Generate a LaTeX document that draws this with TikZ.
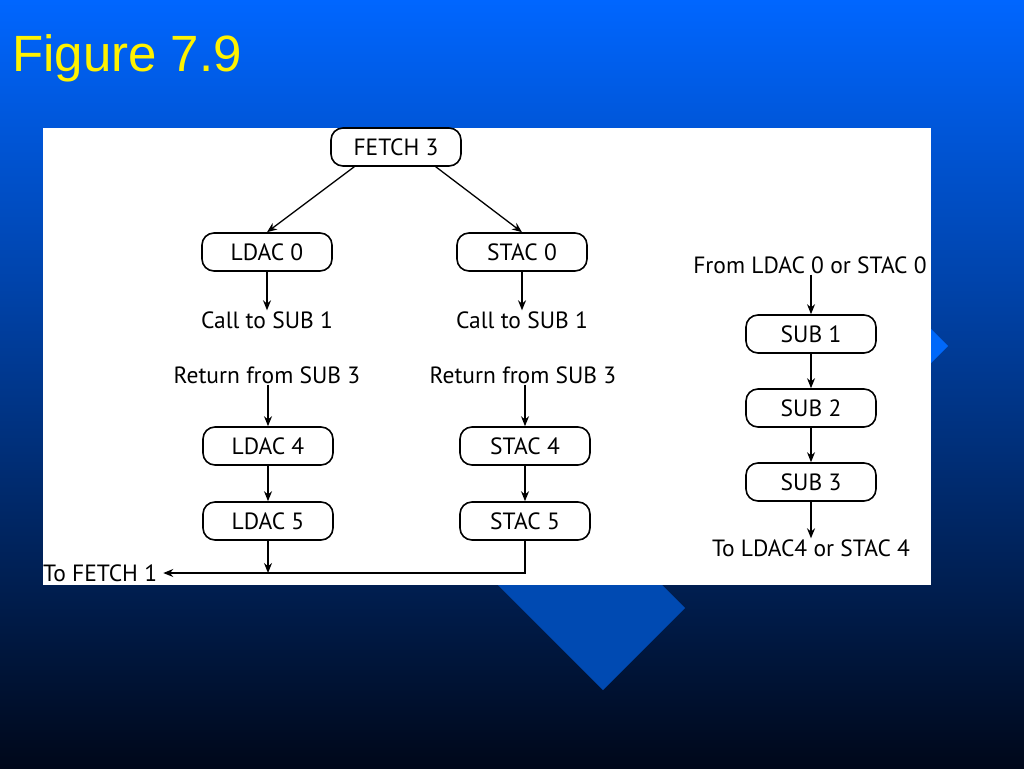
\documentclass[tikz,border=0pt]{standalone}
\usepackage{fontspec}
\setmainfont{PT Sans}
\newfontfamily\titlefont{Liberation Sans}
\usetikzlibrary{arrows.meta}
\definecolor{bgtop}{RGB}{0,102,255}
\definecolor{bgmid}{RGB}{0,72,196}
\definecolor{bgbot}{RGB}{0,8,26}
\definecolor{diamA}{RGB}{0,74,178}
\definecolor{diamB}{RGB}{0,104,250}
\begin{document}
\begin{tikzpicture}[x=1pt, y=-1pt,
    box/.style={draw, line width=1.6pt, rounded corners=12pt,
                minimum width=130pt, minimum height=38pt, font=\fontsize{23.5}{26}\selectfont},
    lbl/.style={font=\fontsize{23.5}{26}\selectfont, inner sep=1pt},
    arr/.style={-{Stealth[length=10pt, width=8pt]}, line width=1.3pt}]
  \useasboundingbox (0,0) rectangle (1024,768);
  \shade[top color=bgtop, middle color=bgmid, bottom color=bgbot] (0,0) rectangle (1024,768);
  % diamonds behind the figure
  \fill[diamA] (603,690) -- (685,608) -- (560,483) -- (478,565) -- cycle;
  \fill[diamB] (948,346) -- (900,298) -- (852,346) -- (900,394) -- cycle;
  \node[anchor=base west, inner sep=0, text=yellow, font=\titlefont\fontsize{51}{60}\selectfont]
    (title) at (12,71) {Figure 7.9};
  \fill[white] (43,128) rectangle (931,585);
  % left and middle columns
  \node[box] (fetch) at (396,147) {FETCH 3};
  \node[box] (ldacA) at (267,252) {LDAC 0};
  \node[box] (stacA) at (522,252) {STAC 0};
  \node[lbl] (callL) at (267,320) {Call to SUB 1};
  \node[lbl] (callS) at (522,320) {Call to SUB 1};
  \node[lbl] (retL) at (267,375) {Return from SUB 3};
  \node[lbl] (retS) at (523,375) {Return from SUB 3};
  \node[box] (ldacD) at (268,446) {LDAC 4};
  \node[box] (stacD) at (525,446) {STAC 4};
  \node[box] (ldacE) at (268,521) {LDAC 5};
  \node[box] (stacE) at (525,521) {STAC 5};
  \node[lbl, anchor=west] (tofetch) at (42,573) {To FETCH 1};
  % right column
  \node[lbl] (from) at (810,265) {From LDAC 0 or STAC 0};
  \node[box] (subA) at (811,334) {SUB 1};
  \node[box] (subB) at (811,408) {SUB 2};
  \node[box] (subC) at (811,482) {SUB 3};
  \node[lbl] (to) at (811,548) {To LDAC4 or STAC 4};
  % connectors
  \draw[arr] (fetch.south west) ++(24,0) -- (ldacA.north);
  \draw[arr] (fetch.south east) ++(-26,0) -- (stacA.north);
  \draw[arr] (ldacA.south) -- (ldacA.south |- callL.north);
  \draw[arr] (stacA.south) -- (stacA.south |- callS.north);
  \draw[arr] (retL.south -| ldacD.north) -- (ldacD.north);
  \draw[arr] (retS.south -| stacD.north) -- (stacD.north);
  \draw[arr] (ldacD) -- (ldacE);
  \draw[arr] (stacD) -- (stacE);
  \draw[arr] (stacE.south) |- ([xshift=5pt]tofetch.east);
  \draw[arr] (ldacE.south) -- (ldacE.south |- tofetch.east);
  \draw[arr] (from.south -| subA.north) -- (subA.north);
  \draw[arr] (subA) -- (subB);
  \draw[arr] (subB) -- (subC);
  \draw[arr] (subC.south) -- (subC.south |- to.north);
\end{tikzpicture}
\end{document}
